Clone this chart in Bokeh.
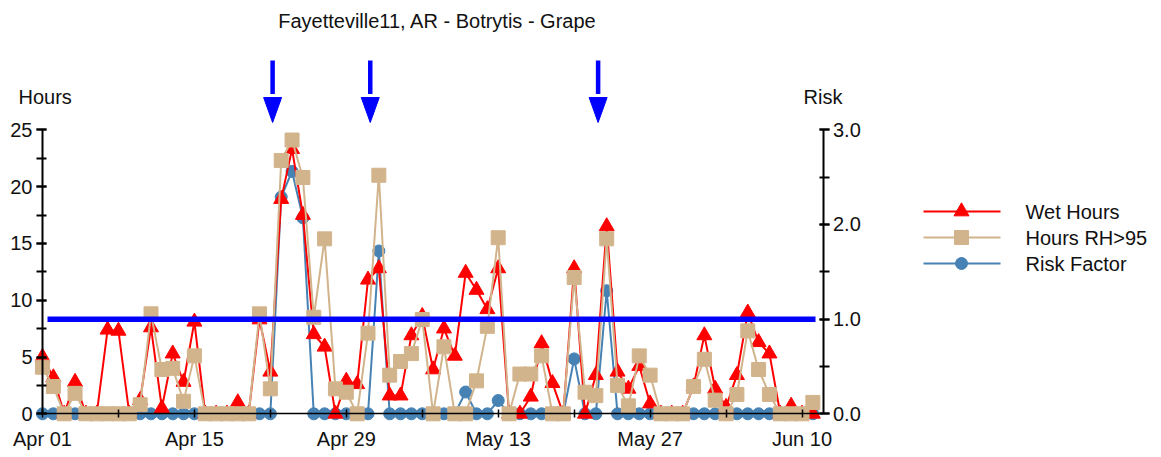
import pandas as pd
from bokeh.plotting import figure
from bokeh.models import (Range1d, LinearAxis, DatetimeAxis, FixedTicker, SingleIntervalTicker,
                          DatetimeTickFormatter, NumeralTickFormatter, ColumnDataSource)
from bokeh.core.properties import value
from bokeh.embed import file_html
from bokeh.resources import INLINE

# ---------------- data ----------------
chart_title = "Fayetteville11, AR - Botrytis - Grape"
start_date = "2011-04-01"
series_names = ["Wet Hours", "Hours RH>95", "Risk Factor"]

wet_hours = [
    5.0, 3.2, 0, 2.8, 0, 0, 7.4, 7.3, 0, 1.2,
    7.6, 0.5, 5.3, 2.8, 8.1, 0, 0, 0, 1.0, 0,
    8.3, 3.7, 18.9, 23.3, 17.5, 7.0, 5.9, 0, 2.9, 2.6,
    11.8, 12.8, 1.6, 1.6, 6.9, 8.6, 3.9, 7.5, 5.1, 12.4,
    10.9, 9.2, 12.8, 0, 0, 1.5, 6.2, 2.7, 0, 12.8,
    0, 3.4, 16.5, 3.7, 2.2, 4.2, 0.9, 0, 0, 0,
    2.4, 6.9, 2.2, 0.6, 3.4, 8.9, 6.3, 5.3, 0, 0.7,
    0, 0]

rh_hours = [
    4.1, 2.4, 0, 1.8, 0, 0, 0, 0, 0, 0.8,
    8.8, 3.9, 4.0, 1.1, 5.1, 0, 0, 0, 0, 0,
    8.8, 2.2, 22.3, 24.1, 20.8, 8.5, 15.4, 2.2, 1.9, 0,
    7.1, 21.0, 3.4, 4.6, 5.3, 8.3, 0, 5.9, 0, 0,
    2.9, 7.7, 15.5, 0, 3.5, 3.5, 5.1, 0, 0, 12.0,
    1.9, 1.6, 15.4, 2.5, 0.7, 5.1, 3.4, 0, 0, 0,
    2.4, 4.8, 1.2, 0, 1.7, 7.3, 3.9, 1.7, 0, 0,
    0, 1.0]

risk_factor = [
    0, 0, 0, 0, 0, 0, 0, 0, 0, 0,
    0, 0, 0, 0, 0, 0, 0, 0, 0, 0,
    0, 0, 2.29, 2.56, 2.07, 0, 0, 0, 0, 0,
    0, 1.72, 0, 0, 0, 0, 0, 0, 0, 0.23,
    0, 0, 0.14, 0, 0, 0, 0, 0, 0, 0.58,
    0, 0, 1.30, 0, 0, 0, 0, 0, 0, 0,
    0, 0, 0, 0, 0, 0, 0, 0, 0, 0,
    0, 0]

tick_dates = ["2011-04-01", "2011-04-15", "2011-04-29", "2011-05-13", "2011-05-27", "2011-06-10"]
minor_tick_dates = ["2011-04-08", "2011-04-22", "2011-05-06", "2011-05-20", "2011-06-03"]
arrow_dates = ["2011-04-22 05:00", "2011-05-01 05:00", "2011-05-22 05:00"]
risk_threshold = 1.0
hours_max = 25
risk_max = 3.0

# ---------------- styling / layout ----------------
RED = "#FF0000"
TAN = "#D2B48C"
STEEL = "#4682B4"
BLUE = "#0000FF"
TXT = "#111111"
FONT = "Liberation Sans"

FIG_W, FIG_H = 1160, 456
PAGE_OFF = 0
X0 = 42.0        # page x of first day
DAY_PX = 10.85   # pixels per day
Y0 = 413.3       # page y of 0 hours
HOUR_PX = 11.36  # pixels per hour
DAY_MS = 86400000.0


def ms(t):
    return pd.Timestamp(t).value / 1e6


dates = pd.date_range(start_date, periods=len(wet_hours), freq="D")
x_dates = [ms(d) for d in dates]


def px_x(page_x):
    return x_dates[0] + (page_x - X0) / DAY_PX * DAY_MS


def px_y(page_y):
    return (Y0 - page_y) / HOUR_PX


hours_per_risk = hours_max / risk_max

x_start, x_end = px_x(PAGE_OFF), px_x(PAGE_OFF + FIG_W)
y_start, y_end = px_y(PAGE_OFF + FIG_H), px_y(PAGE_OFF)
right_axis_x = px_x(822.5)

p = figure(width=FIG_W, height=FIG_H, x_axis_type=None, y_axis_type=None,
           x_range=Range1d(x_start, x_end), y_range=Range1d(y_start, y_end),
           output_backend="svg", toolbar_location=None, outline_line_color=None,
           min_border_left=0, min_border_right=0, min_border_top=0, min_border_bottom=0)
p.extra_y_ranges = {"risk": Range1d(y_start / hours_per_risk, y_end / hours_per_risk)}


def style_axis(ax, tin, tout, standoff, width=2):
    ax.axis_line_color = "black"
    ax.axis_line_width = width
    ax.major_tick_line_color = "black"
    ax.minor_tick_line_color = "black"
    ax.major_tick_line_width = width
    ax.minor_tick_line_width = width
    ax.major_tick_in = tin
    ax.major_tick_out = tout
    ax.minor_tick_in = tin
    ax.minor_tick_out = tout
    ax.major_label_text_font = FONT
    ax.major_label_text_font_size = "20px"
    ax.major_label_text_color = TXT
    ax.major_label_standoff = standoff


xaxis = DatetimeAxis(fixed_location=0, bounds=(x_dates[0], right_axis_x),
                     ticker=FixedTicker(ticks=[ms(t) for t in tick_dates],
                                        minor_ticks=[ms(t) for t in minor_tick_dates]),
                     formatter=DatetimeTickFormatter(days="%b %d", months="%b %d"))
style_axis(xaxis, 4, 4, 10, width=1.5)
p.add_layout(xaxis, "below")

laxis = LinearAxis(fixed_location=x_dates[0], bounds=(0, hours_max),
                   ticker=SingleIntervalTicker(interval=5, num_minor_ticks=2))
style_axis(laxis, 4, 6, 4)
p.add_layout(laxis, "left")

raxis = LinearAxis(y_range_name="risk", fixed_location=right_axis_x, bounds=(0, risk_max),
                   ticker=SingleIntervalTicker(interval=1, num_minor_ticks=2),
                   formatter=NumeralTickFormatter(format="0.0"))
style_axis(raxis, 4, 6, 4)
p.add_layout(raxis, "right")

# ---------------- series ----------------
src = ColumnDataSource(dict(x=x_dates, wet=wet_hours, rh=rh_hours, risk=risk_factor))

p.line("x", "risk", source=src, y_range_name="risk", line_color=STEEL, line_width=2)
p.scatter("x", "risk", source=src, y_range_name="risk", marker="circle", size=12,
          fill_color=STEEL, line_color=STEEL)

p.line("x", "wet", source=src, line_color=RED, line_width=2)
p.scatter("x", "wet", source=src, marker="triangle", size=15, fill_color=RED, line_color=RED)

p.line("x", "rh", source=src, line_color=TAN, line_width=2)
p.scatter("x", "rh", source=src, marker="square", size=14, fill_color=TAN, line_color=TAN)

# risk threshold line (on risk axis)
p.line([px_x(47), px_x(815)], [risk_threshold, risk_threshold], y_range_name="risk",
       line_color=BLUE, line_width=5.5)

# ---------------- arrows ----------------
arrow_x = [ms(d) for d in arrow_dates]
shaft_top, head_base, head_tip = px_y(60), px_y(97), px_y(122)
head_half = 9 / DAY_PX * DAY_MS
p.segment(x0=arrow_x, y0=[shaft_top] * len(arrow_x), x1=arrow_x, y1=[head_base + 0.3] * len(arrow_x),
          line_color=BLUE, line_width=4.5)
p.patches(xs=[[x - head_half, x + head_half, x] for x in arrow_x],
          ys=[[head_base, head_base, head_tip] for _ in arrow_x],
          fill_color=BLUE, line_color=BLUE, line_width=1)

# ---------------- texts ----------------
p.text(x=[px_x(437)], y=[px_y(20)], text=[chart_title], text_font=value(FONT),
       text_font_size=value("20px"), text_color=TXT, text_align="center", text_baseline="middle")
p.text(x=[px_x(18)], y=[px_y(96)], text=["Hours"], text_font=value(FONT),
       text_font_size=value("20px"), text_color=TXT, text_align="left", text_baseline="middle")
p.text(x=[px_x(803)], y=[px_y(96)], text=["Risk"], text_font=value(FONT),
       text_font_size=value("20px"), text_color=TXT, text_align="left", text_baseline="middle")

# ---------------- legend (drawn in chart space) ----------------
legend_rows = [211, 237, 263]
legend_styles = [(RED, "triangle", 15), (TAN, "square", 14), (STEEL, "circle", 12)]
for name, row, (col, mk, sz) in zip(series_names, legend_rows, legend_styles):
    yy = px_y(row)
    p.line([px_x(923), px_x(1000)], [yy, yy], line_color=col, line_width=2)
    p.scatter([px_x(961)], [yy], marker=mk, size=sz, fill_color=col, line_color=col)
    p.text(x=[px_x(1025)], y=[yy], text=[name], text_font=value(FONT),
           text_font_size=value("20px"), text_color=TXT, text_align="left", text_baseline="middle")

open("out.html", "w").write(file_html(p, INLINE))
